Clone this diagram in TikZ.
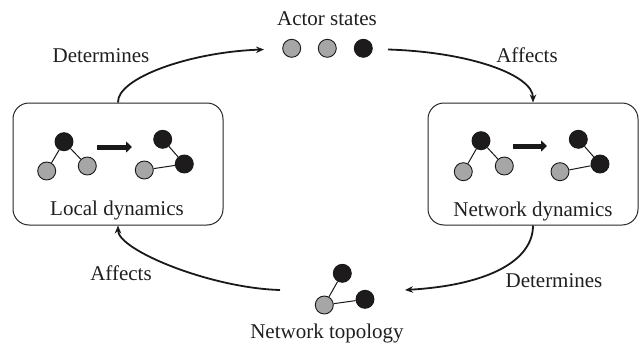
\documentclass[tikz,border=0pt]{standalone}
\usepackage{fontspec}
\setmainfont{Liberation Serif}
\usetikzlibrary{arrows.meta}
\definecolor{dotgray}{HTML}{A6A6A6}
\definecolor{dotblack}{HTML}{1E1B1C}
\tikzset{
  every node/.style={font=\rmfamily\fontsize{21}{24}\selectfont, text=black!88},
  panel/.style={draw=black!85, line width=1pt, rounded corners=16pt,
    minimum width=210pt, minimum height=122pt, inner sep=0pt},
  gdot/.style={circle, draw=black!90, line width=0.9pt, fill=dotgray,
    minimum size=18pt, inner sep=0pt},
  bdot/.style={circle, draw=black!90, line width=0.9pt, fill=dotblack,
    minimum size=18pt, inner sep=0pt},
  tie/.style={draw=black!90, line width=1pt},
  flow/.style={draw=black!90, line width=1.8pt, -{Stealth[length=8pt,width=6.5pt]}},
  change/.style={draw=black!90, line width=5pt, -{Triangle[length=6pt,width=11pt]}},
  lbl/.style={anchor=base, inner sep=0pt}
}
\begin{document}
\begin{tikzpicture}[x=1pt, y=-1pt]
\useasboundingbox (0,0) rectangle (641,343);

% the two panels
\node[panel] (lbox) at (118,164) {};
\node[panel] (rbox) at (533,164) {};
\node[lbl] (ltitle) at (117,215) {Local dynamics};
\node[lbl] (rtitle) at (533,216) {Network dynamics};

% local dynamics: before and after
\node[bdot] (l1b) at (64,141.7) {};
\node[gdot] (l1g) at (46.7,171) {};
\node[gdot] (l1h) at (87.3,166) {};
\draw[tie] (l1b) -- (l1g);
\draw[tie] (l1b) -- (l1h);
\coordinate (la0) at (97,147);
\coordinate (la1) at (132,147);
\draw[change] (la0) -- (la1);
\node[bdot] (l2b) at (162.7,139.3) {};
\node[bdot] (l2c) at (184.3,164) {};
\node[gdot] (l2g) at (144.3,170) {};
\draw[tie] (l2b) -- (l2c);
\draw[tie] (l2g) -- (l2c);

% network dynamics: before and after
\node[bdot] (r1b) at (481,140.7) {};
\node[gdot] (r1g) at (463.3,171.7) {};
\node[gdot] (r1h) at (504.3,166) {};
\draw[tie] (r1b) -- (r1g);
\draw[tie] (r1b) -- (r1h);
\coordinate (ra0) at (513,146);
\coordinate (ra1) at (547,146);
\draw[change] (ra0) -- (ra1);
\node[bdot] (r2b) at (578.3,139.3) {};
\node[bdot] (r2c) at (600,164) {};
\node[gdot] (r2g) at (560,171.7) {};
\draw[tie] (r2b) -- (r2c);
\draw[tie] (r2g) -- (r2c);

% actor states
\node[lbl] (atitle) at (327,25) {Actor states};
\node[gdot] (a1) at (291.7,48.3) {};
\node[gdot] (a2) at (327.3,48.3) {};
\node[bdot] (a3) at (363.3,48.3) {};

% network topology
\node[bdot] (t1) at (342.3,273.3) {};
\node[bdot] (t2) at (365,299.3) {};
\node[gdot] (t3) at (324.3,305) {};
\draw[tie] (t3) -- (t1);
\draw[tie] (t3) -- (t2);
\node[lbl] (ttitle) at (327,338) {Network topology};

% cycle of influences
\coordinate (aIn) at (264,49.5);
\coordinate (aOut) at (388,49.5);
\coordinate (tIn) at (405,290);
\coordinate (tOut) at (280,290);

\draw[flow] (lbox.north) .. controls (117,78) and (190,52) .. (aIn);
\draw[flow] (aOut) .. controls (470,52) and (533,75) .. (rbox.north);
\draw[flow] (rbox.south) .. controls (533,260) and (490,285) .. (tIn);
\draw[flow] (tOut) .. controls (210,288) and (118,250) .. (lbox.south);

\node[lbl] (d1) at (101,62) {Determines};
\node[lbl] (e1) at (527,62) {Affects};
\node[lbl] (d2) at (554,287) {Determines};
\node[lbl] (e2) at (121,280) {Affects};
\end{tikzpicture}
\end{document}
